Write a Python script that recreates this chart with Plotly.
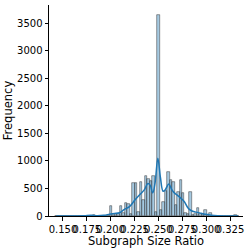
import numpy as np
import plotly.graph_objects as go

# Histogram data (bin width and counts)
bin_width = 0.0026
first_center = 0.1434
counts = [
    3, 0, 0, 0, 0, 0, 0, 3, 0, 0, 0, 0, 0, 0,   # k=-41..-28
    0, 15, 8, 0, 2, 0, 3, 5,                   # k=-27..-20
    190, 10, 40, 40, 185, 60, 230, 220, 30,     # k=-19..-11
    600, 600, 80, 620, 290, 730, 680, 630, 730, 70,  # k=-10..-1
    3650,                                       # k=0 (0.25)
    100, 260, 450, 800, 650, 620, 200, 440, 660, 420,  # k=1..10
    60, 30, 440, 20, 40, 150, 40, 30, 100, 10,  # k=11..20
    60, 5, 0, 0, 3, 0, 0, 0, 0, 0, 15, 0,       # k=21..32
]
centers = [first_center + i * bin_width for i in range(len(counts))]

# KDE curve points
kde_x = [0.1430, 0.1600, 0.1720, 0.1796, 0.1860, 0.1930, 0.1990, 0.2040, 0.2092,
         0.2144, 0.2197, 0.2249, 0.2301, 0.2354, 0.2389, 0.2413, 0.2441, 0.2465,
         0.2494, 0.2521, 0.2549, 0.2573, 0.2609, 0.2640, 0.2667, 0.2703, 0.2737,
         0.2772, 0.2808, 0.2842, 0.2894, 0.2947, 0.2999, 0.3051, 0.3121, 0.3200,
         0.3295, 0.3334]
kde_y = [0, 0, 3, 12, 4, 12, 32, 45, 60,
         120, 170, 280, 380, 480, 590, 560, 420, 600,
         1050, 700, 450, 480, 580, 480, 420, 370, 320,
         260, 150, 100, 70, 50, 30, 15, 5, 2,
         2, 0]

x_ticks = [0.150, 0.175, 0.200, 0.225, 0.250, 0.275, 0.300, 0.325]
y_ticks = [0, 500, 1000, 1500, 2000, 2500, 3000, 3500]

fig = go.Figure()
fig.add_trace(go.Bar(
    x=centers, y=counts, width=bin_width,
    marker=dict(color="rgba(31,119,180,0.4)",
                line=dict(color="rgba(55,55,55,0.85)", width=0.6)),
    showlegend=False,
))
fig.add_trace(go.Scatter(
    x=kde_x, y=kde_y, mode="lines", line=dict(color="#1f77b4", width=1.5, shape="spline"),
    showlegend=False,
))

font = "DejaVu Sans, sans-serif"
fig.update_layout(
    width=249, height=249,
    margin=dict(l=49, r=6, t=5, b=33),
    plot_bgcolor="white", paper_bgcolor="white",
    bargap=0,
    font=dict(family=font, size=10, color="black"),
)
fig.update_xaxes(
    range=[0.1354, 0.3386], tickvals=x_ticks, ticktext=[f"{v:.3f}" for v in x_ticks],
    tickangle=0, automargin=False,
    showline=True, linecolor="black", linewidth=1, ticks="outside", ticklen=3.5,
    tickcolor="black", showgrid=False, zeroline=False,
    title=dict(text="Subgraph Size Ratio", font=dict(size=11.5), standoff=0),
    tickfont=dict(size=10),
)
fig.update_yaxes(
    range=[0, 3832], tickvals=y_ticks, automargin=False,
    showline=True, linecolor="black", linewidth=1, ticks="outside", ticklen=3.5,
    tickcolor="black", showgrid=False, zeroline=False,
    title=dict(text="Frequency", font=dict(size=11.5), standoff=2),
    tickfont=dict(size=10),
)
fig.write_html("out.html", config={"displayModeBar": False},
               post_script="document.body.style.margin='0';document.body.style.overflow='hidden';")
